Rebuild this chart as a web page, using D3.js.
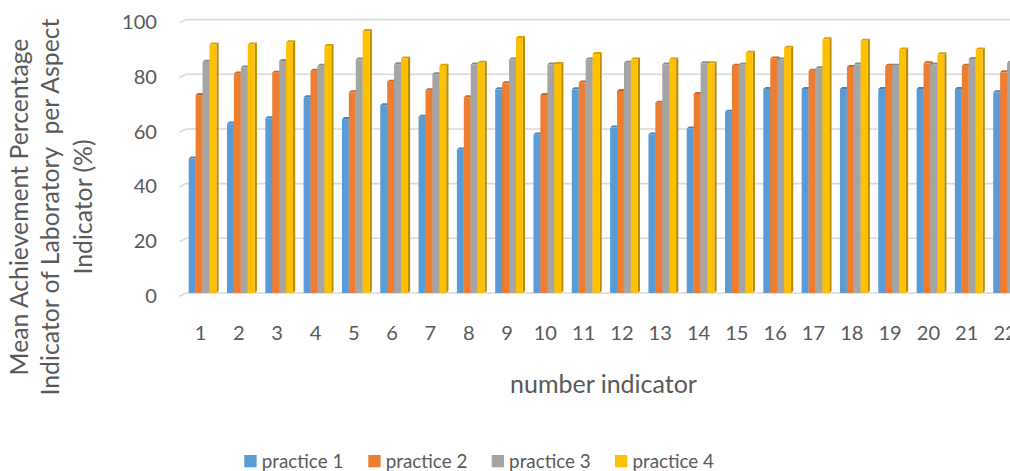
<!DOCTYPE html>
<html><head><meta charset="utf-8">
<script src="https://cdn.jsdelivr.net/npm/d3@7"></script>
<style>html,body{margin:0;padding:0;background:#fff;overflow:hidden}text{font-family:Lato,"Open Sans",sans-serif;fill:#595959}</style>
</head><body><svg id="c" width="1010" height="471"></svg>
<script>
const categories = ["1","2","3","4","5","6","7","8","9","10","11","12","13","14","15","16","17","18","19","20","21","22"];
const seriesNames = ["practice 1","practice 2","practice 3","practice 4"];
const practice1 = [49.2,62.0,63.9,71.6,63.6,68.7,64.5,52.5,74.5,58.0,74.5,60.5,58.0,60.2,66.3,74.6,74.6,74.6,74.6,74.6,74.6,73.4];
const practice2 = [72.4,80.3,80.6,81.3,73.4,77.3,74.2,71.6,76.7,72.4,77.0,73.9,69.6,72.8,83.1,85.8,81.3,82.7,83.1,84.0,83.1,80.7];
const practice3 = [84.6,82.5,84.9,83.1,85.4,83.7,80.0,83.6,85.4,83.6,85.4,84.2,83.6,84.0,83.6,85.4,82.2,83.6,83.1,83.6,85.6,84.2];
const practice4 = [90.9,90.9,91.7,90.3,95.8,85.8,83.1,84.2,93.3,83.8,87.4,85.4,85.4,84.0,87.9,89.7,92.8,92.3,89.1,87.3,89.1,88.0];
const yTicks = [0,20,40,60,80,100];
const colors = ["#5b9bd5","#ed7d31","#a5a5a5","#ffc000"];
const yTitleLines = ["Mean Achievement Percentage","Indicator of Laboratory  per Aspect","Indicator (%)"];
const xTitle = "number indicator";

const seriesValues = [practice1, practice2, practice3, practice4];
const svg = d3.select("#c");
svg.append("rect").attr("width",1010).attr("height",471).attr("fill","#fff");

const y = d3.scaleLinear().domain([0,100]).range([293,19.6]);
const x = d3.scaleBand().domain(categories).range([183.4,1026.2]).paddingInner(0.277).paddingOuter(0.1385);
const xs = d3.scaleBand().domain(seriesNames).range([0,x.bandwidth()]);
const color = d3.scaleOrdinal().domain(seriesNames).range(colors);

function fit(sel, target){
  sel.style("font-size","20px");
  const w = sel.node().getComputedTextLength();
  const fs = 20*target/w;
  sel.style("font-size", fs+"px");
  return fs;
}

// gridlines
svg.append("g").selectAll("path").data(yTicks).join("path")
  .attr("d", t => `M179.5,${y(t)+3.3}L186,${y(t)}H1010`)
  .attr("fill","none").attr("stroke","#d9d9d9").attr("stroke-width",1.6);

// bars
const dx = 2.2, dy = 2;
const y0 = y(0);
const data = [];
categories.forEach((c,i)=>seriesNames.forEach((s,j)=>data.push({c,s,v:seriesValues[j][i]})));
const bars = svg.append("g").selectAll("g").data(data).join("g");
bars.each(function(d){
  const g = d3.select(this);
  const bx = x(d.c)+xs(d.s), w = xs.bandwidth(), by = y(d.v);
  const col = d3.color(color(d.s));
  g.append("path").attr("d",`M${bx+w},${by}L${bx+w+dx},${by-dy}L${bx+w+dx},${y0-dy}L${bx+w},${y0}Z`)
    .attr("fill", col.darker(0.9));
  g.append("path").attr("d",`M${bx},${by}L${bx+dx},${by-dy}L${bx+w+dx},${by-dy}L${bx+w},${by}Z`)
    .attr("fill", col.darker(0.5));
  g.append("rect").attr("x",bx).attr("y",by).attr("width",w).attr("height",y0-by).attr("fill",col);
});

// y tick labels
const yl = svg.append("g").selectAll("text").data(yTicks).join("text")
  .attr("x",157).attr("y",t=>y(t)+4.5).attr("text-anchor","end").attr("dominant-baseline","middle")
  .text(t=>t);
const tickFs = fit(yl.filter(t=>t===100), 35);
yl.style("font-size", tickFs+"px");

// x tick labels
svg.append("g").selectAll("text").data(categories).join("text")
  .attr("x",c=>x(c)+x.bandwidth()/2-2).attr("y",335).attr("text-anchor","middle").attr("dominant-baseline","middle")
  .style("font-size",tickFs+"px").text(c=>c);

// x title
const xt = svg.append("text").attr("x",603.5).attr("y",393).attr("text-anchor","middle").text(xTitle);
fit(xt,187);

// y title
const ytBase = [28.3,59.3,91.7];
const yts = svg.append("g").selectAll("text").data(yTitleLines).join("text")
  .attr("transform",(t,i)=>`translate(${ytBase[i]},207) rotate(-90)`)
  .attr("text-anchor","middle").style("white-space","pre").text(t=>t);
const ytFs = fit(yts.filter((t,i)=>i===0),337);
yts.style("font-size",ytFs+"px");

// legend
const legX = [244.3,368.3,491.7,615];
const leg = svg.append("g").selectAll("g").data(seriesNames).join("g")
  .attr("transform",(s,i)=>`translate(${legX[i]},455)`);
leg.append("rect").attr("width",12.3).attr("height",12.3).attr("fill",s=>color(s));
const lt = leg.append("text").attr("x",17.4).attr("y",12.5).text(s=>s);
const legFs = fit(lt.filter((s,i)=>i===0),81.7);
lt.style("font-size",legFs+"px");
</script></body></html>
